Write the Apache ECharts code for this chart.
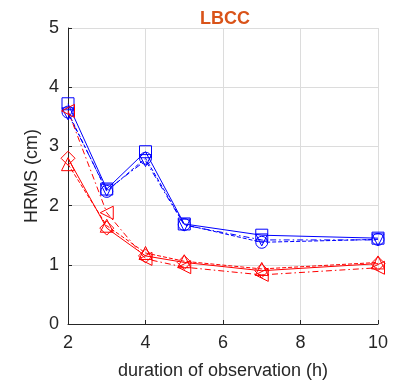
<!DOCTYPE html>
<html>
<head>
<meta charset="utf-8">
<script src="https://cdn.jsdelivr.net/npm/echarts@6/dist/echarts.min.js"></script>
<style>
  html, body { margin: 0; padding: 0; background: #fff; }
  #chart { width: 393px; height: 385px; }
</style>
</head>
<body>
<div id="chart"></div>
<script>
// Observation durations (h)
const durations = [2, 3, 4, 5, 7, 10];

// HRMS (cm), blue group
const blueSquare = [3.72, 2.28, 2.91, 1.69, 1.50, 1.45];
const blueCircle = [3.58, 2.24, 2.80, 1.68, 1.38, 1.43];
const blueTriDown = [3.55, 2.26, 2.76, 1.67, 1.42, 1.42];

// HRMS (cm), red group
const redDiamond = [2.80, 1.62, 1.15, 1.04, 0.90, 1.02];
const redTriUp = [2.70, 1.66, 1.20, 1.06, 0.93, 1.04];
const redTriLeft = [3.60, 1.88, 1.10, 0.96, 0.83, 0.95];

const yTicks = [0, 1, 2, 3, 4, 5];
const xTicks = [2, 4, 6, 8, 10];

const BLUE = '#0000ff';
const RED = '#ff0000';
const DASHDOT = [6, 3, 1.5, 3];
const FONT = 'Liberation Sans, Arial, sans-serif';

const TRI_LEFT = 'path://M0,5 L10,0 L10,10 Z';
const TRI_DOWN = 'path://M0,0 L10,0 L5,10 Z';

function pairs(ys) { return durations.map((x, i) => [x, ys[i]]); }

function mkSeries(name, ys, color, symbol, lineType, size) {
  return {
    name, type: 'line', data: pairs(ys),
    symbol, symbolSize: size || 12, showSymbol: true,
    lineStyle: { color, width: 1, type: lineType },
    itemStyle: { color: 'rgba(0,0,0,0)', borderColor: color, borderWidth: 1 },
    emphasis: { disabled: true },
    z: 3
  };
}

const chart = echarts.init(document.getElementById('chart'), null, { renderer: 'canvas' });
chart.setOption({
  animation: false,
  backgroundColor: '#ffffff',
  title: {
    text: 'LBCC', left: 220, top: 5, textAlign: 'center',
    textStyle: { color: '#d95319', fontSize: 18, fontWeight: 'bold', fontFamily: FONT }
  },
  grid: { left: 68, right: 15, top: 28, bottom: 60 },
  xAxis: {
    type: 'value', min: 2, max: 10, interval: 2,
    name: 'duration of observation (h)', nameLocation: 'middle', nameGap: 38,
    nameTextStyle: { fontSize: 18, color: '#262626', fontFamily: FONT },
    axisLine: { show: true, lineStyle: { color: '#262626', width: 1 } },
    axisTick: { show: true, inside: true, length: 4, lineStyle: { color: '#262626' } },
    axisLabel: { fontSize: 18, color: '#262626', margin: 10, fontFamily: FONT,
      formatter: v => xTicks.includes(v) ? String(v) : '' },
    splitLine: { show: true, lineStyle: { color: '#dcdcdc', width: 1 } }
  },
  yAxis: {
    type: 'value', min: 0, max: 5, interval: 1,
    name: 'HRMS (cm)', nameLocation: 'middle', nameGap: 27, nameRotate: 90,
    nameMoveOverlap: false,
    nameTextStyle: { fontSize: 18, color: '#262626', fontFamily: FONT },
    axisLine: { show: true, lineStyle: { color: '#262626', width: 1 } },
    axisTick: { show: true, inside: true, length: 4, lineStyle: { color: '#262626' } },
    axisLabel: { fontSize: 18, color: '#262626', margin: 9, fontFamily: FONT,
      formatter: v => yTicks.includes(v) ? String(v) : '' },
    splitLine: { show: true, lineStyle: { color: '#dcdcdc', width: 1 } }
  },
  series: [
    mkSeries('blue-square', blueSquare, BLUE, 'rect', 'solid', 12),
    mkSeries('blue-circle', blueCircle, BLUE, 'circle', 'dashed', 12),
    mkSeries('blue-tridown', blueTriDown, BLUE, TRI_DOWN, DASHDOT, 12),
    mkSeries('red-diamond', redDiamond, RED, 'diamond', 'solid', 14),
    mkSeries('red-triup', redTriUp, RED, 'triangle', 'dashed', 13),
    mkSeries('red-trileft', redTriLeft, RED, TRI_LEFT, DASHDOT, 13)
  ]
});
</script>
</body>
</html>
